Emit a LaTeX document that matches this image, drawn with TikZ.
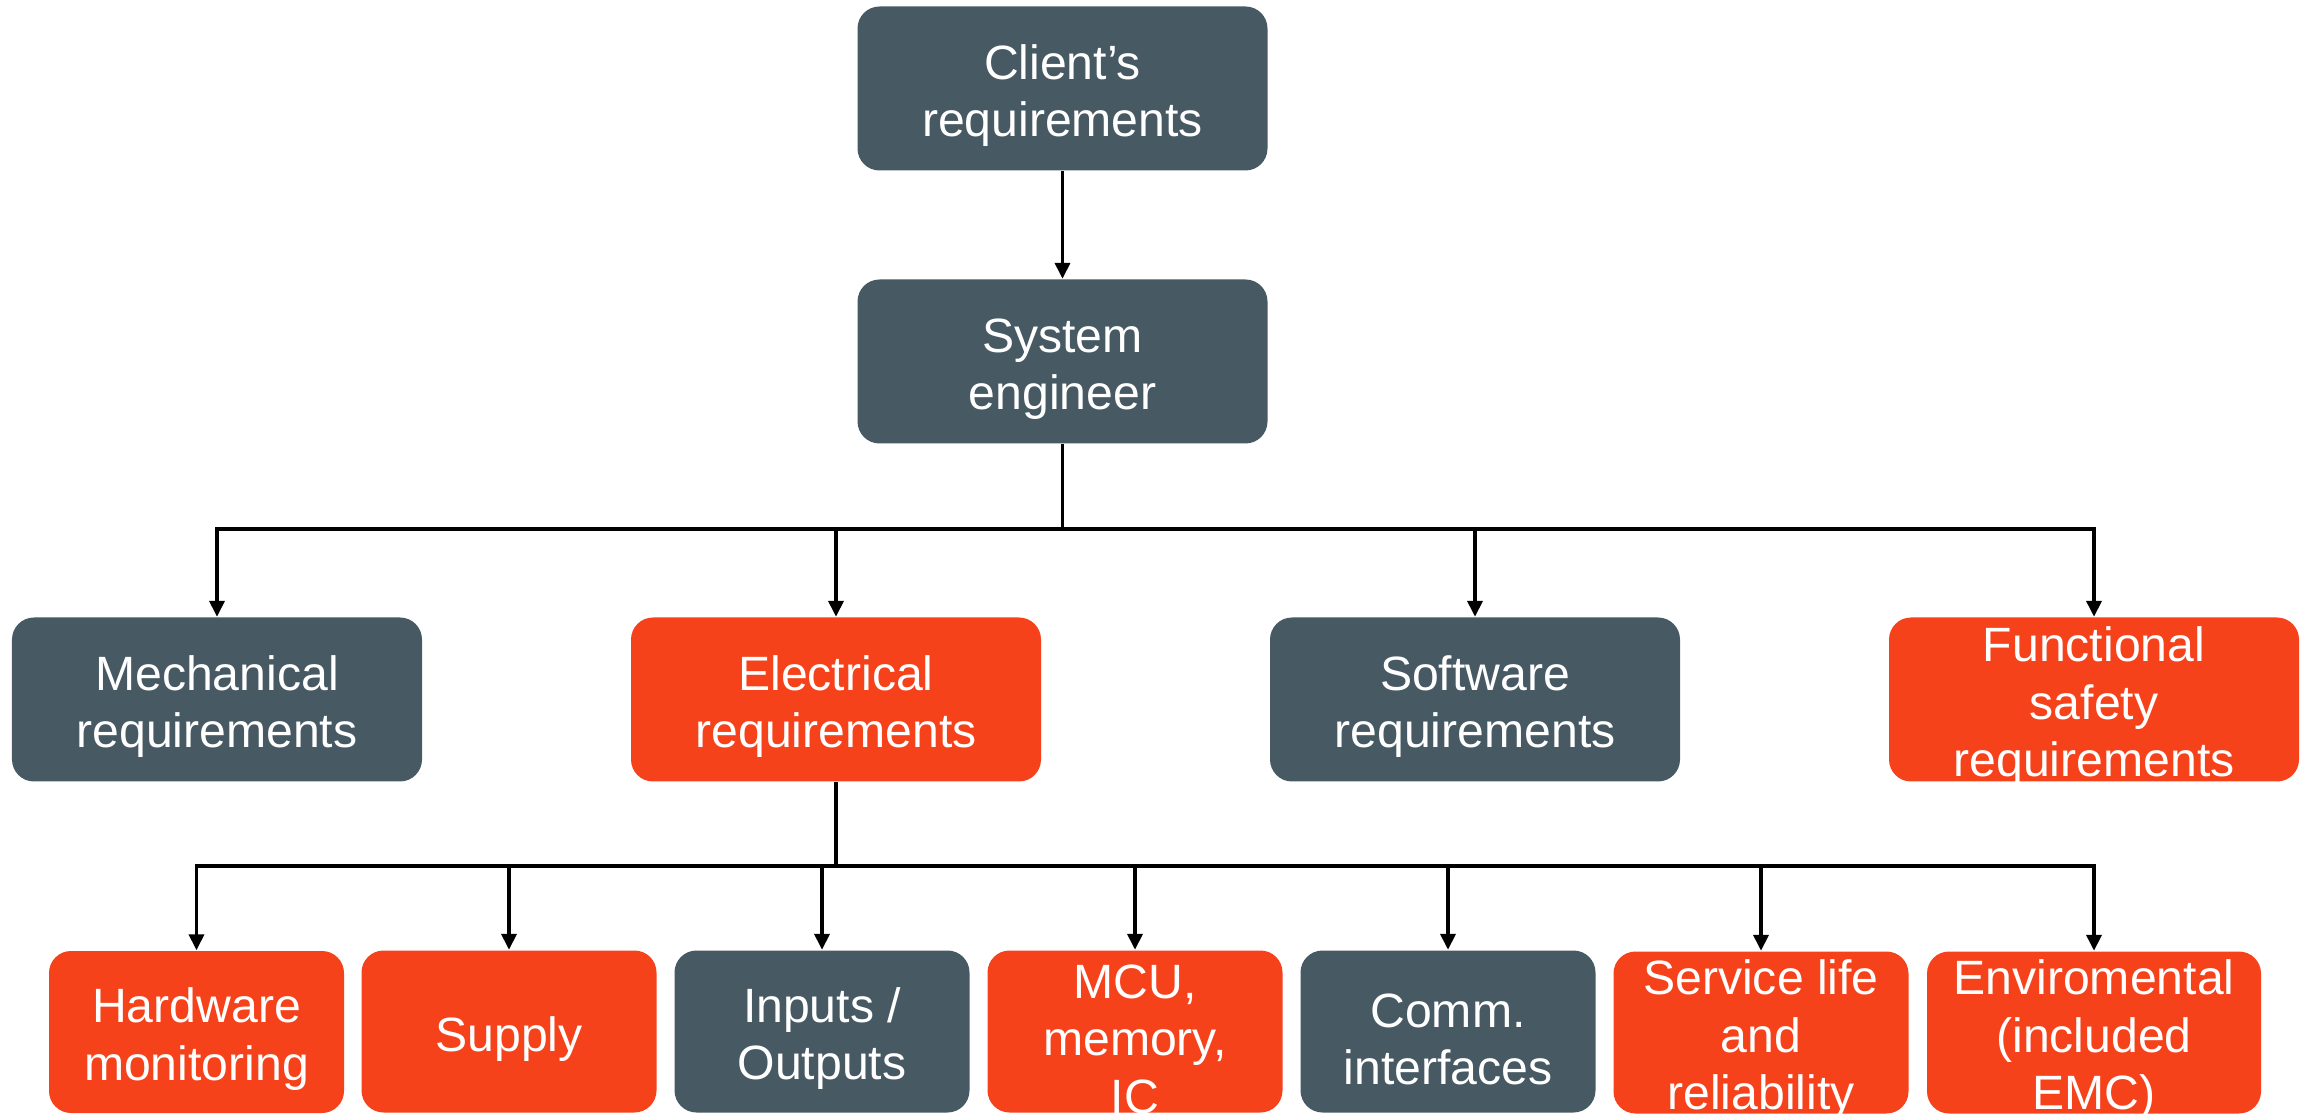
\documentclass[tikz,border=0pt]{standalone}
\usepackage{fontspec}
\setmainfont{Liberation Sans}
\usetikzlibrary{arrows.meta}
\definecolor{slate}{RGB}{71,89,99}
\definecolor{flame}{RGB}{246,66,27}
\newcommand{\lift}{\rule{0pt}{14pt}}
\tikzset{
	box/.style={rounded corners=0.22cm,text=white,align=center,inner xsep=0pt,inner ysep=0pt,font=\fontsize{13.7}{16.3}\selectfont},
	bigbox/.style={box,minimum width=4.1cm,minimum height=1.64cm},
	smallbox/.style={box,minimum width=2.95cm,minimum height=1.62cm},
	tall/.style={inner ysep=-3pt},
	link/.style={line width=1.05pt,-{Triangle[length=1.6mm,width=1.5mm]}},
	bus/.style={line width=1.05pt}
}
\begin{document}
\begin{tikzpicture}
	\useasboundingbox (0,0) rectangle (23.15,-11.15);
	\node[bigbox,fill=slate] (client) at (10.625,-0.885) {\lift Client's\\requirements};
	\node[bigbox,fill=slate] (system) at (10.625,-3.615) {\lift System\\engineer};
	\node[bigbox,fill=slate] (mech) at (2.17,-6.995) {\lift Mechanical\\requirements};
	\node[bigbox,fill=flame] (elec) at (8.36,-6.995) {\lift Electrical\\requirements};
	\node[bigbox,fill=slate] (soft) at (14.75,-6.995) {\lift Software\\requirements};
	\node[bigbox,tall,fill=flame] (func) at (20.94,-6.995) {\lift Functional\\safety\\requirements};
	\node[smallbox,fill=flame] (hw) at (1.965,-10.32) {\lift Hardware\\monitoring};
	\node[smallbox,fill=flame] (supply) at (5.09,-10.315) {\lift Supply};
	\node[smallbox,fill=slate] (io) at (8.22,-10.315) {\lift Inputs /\\Outputs};
	\node[smallbox,tall,fill=flame] (mcu) at (11.35,-10.315) {\lift MCU,\\memory,\\IC};
	\node[smallbox,fill=slate] (comm) at (14.48,-10.315) {\lift Comm.\\interfaces};
	\node[smallbox,tall,fill=flame] (life) at (17.61,-10.325) {\lift Service life\\and\\reliability};
	\node[smallbox,tall,fill=flame,minimum width=3.34cm] (env) at (20.94,-10.325) {\lift Enviromental\\(included\\EMC)};
	\coordinate (busA) at (10.625,-5.29);
	\coordinate (busB) at (8.36,-8.66);
	\draw[link] (client) -- (system);
	\draw[bus] (system) -- (busA);
	\foreach \n in {mech,elec,soft,func}
		\draw[link] (busA) -| (\n.north);
	\draw[bus] (elec) -- (busB);
	\foreach \n in {hw,supply,io,mcu,comm,life,env}
		\draw[link] (busB) -| (\n.north);
\end{tikzpicture}
\end{document}
